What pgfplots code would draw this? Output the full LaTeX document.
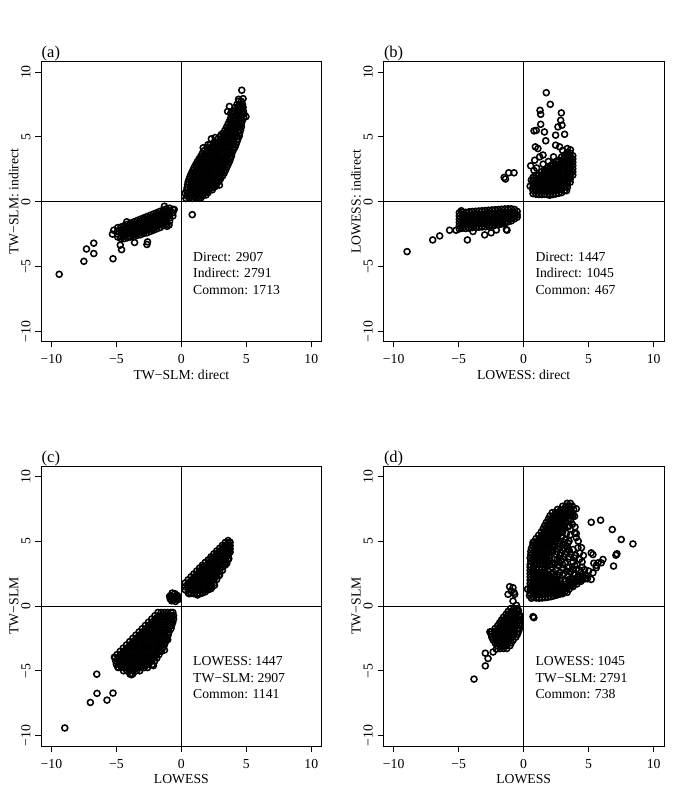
\documentclass[border=0pt]{standalone}
\usepackage{pgfplots}
\pgfplotsset{compat=1.18}
\usepackage{fontspec}
\setmainfont{Liberation Serif}
\newcommand{\rf}{\fontsize{13.7pt}{16.4pt}\selectfont}
\pgfplotsset{
 panel/.style={anchor=south west, scale only axis, width=280.7pt, height=280pt,
  xmin=-10.8,xmax=10.8,ymin=-10.8,ymax=10.8,
  xtick={-10,-5,0,5,10}, ytick={-10,-5,0,5,10},
  xticklabels={−10,−5,0,5,10}, yticklabels={−10,−5,0,5,10},
  tick align=outside, tick pos=left, major tick length=5.7pt,
  axis line style={line width=0.9pt},
  tick style={line width=0.9pt, black},
  tick label style={font=\rf, inner sep=0pt},
  xticklabel style={anchor=base, yshift=-16.6pt},
  yticklabel style={xshift=-5pt, rotate=90, anchor=base},
  clip mode=individual},
 pts/.style={only marks, mark=o, mark size=3.0pt, mark options={line width=1.55pt, black}, black},
 zl/.style={black, line width=0.9pt, forget plot},
}
\begin{document}
\begin{tikzpicture}[x=1pt,y=1pt]
\useasboundingbox (0,0) rectangle (685,809);
% ---------------- (a)
\begin{axis}[panel, at={(41pt,467.3pt)}]
\addplot[pts] coordinates {
(0.35,0.25)(0.6,0.27)(0.85,0.25)(1.1,0.28)(1.35,0.26)(1.52,0.31)
(0.42,0.45)(0.67,0.47)(0.92,0.44)(1.17,0.46)(1.42,0.45)(1.67,0.48)(1.9,0.52)
(0.3,0.65)(0.55,0.66)(0.8,0.64)(1.05,0.67)(1.3,0.65)(1.55,0.66)(1.8,0.68)(2.05,0.7)
(0.4,0.87)(0.65,0.88)(0.9,0.86)(1.15,0.87)(1.4,0.89)(1.65,0.86)(1.9,0.88)(2.15,0.9)(2.38,0.92)
(0.45,1.09)(0.7,1.1)(0.95,1.08)(1.2,1.09)(1.45,1.11)(1.7,1.08)(1.95,1.1)(2.2,1.09)(2.45,1.12)(2.58,1.15)
(0.48,1.31)(0.73,1.3)(0.98,1.32)(1.23,1.31)(1.48,1.3)(1.73,1.33)(1.98,1.31)(2.23,1.3)(2.48,1.32)(2.72,1.35)
(0.52,1.53)(0.77,1.52)(1.02,1.54)(1.27,1.53)(1.52,1.52)(1.77,1.55)(2.02,1.53)(2.27,1.52)(2.52,1.54)(2.77,1.55)(2.9,1.58)
(0.6,1.75)(0.85,1.74)(1.1,1.76)(1.35,1.75)(1.6,1.74)(1.85,1.77)(2.1,1.75)(2.35,1.74)(2.6,1.76)(2.85,1.75)(3.02,1.78)
(0.68,1.97)(0.93,1.96)(1.18,1.98)(1.43,1.97)(1.68,1.96)(1.93,1.99)(2.18,1.97)(2.43,1.96)(2.68,1.98)(2.93,1.97)(3.18,2.0)
(0.78,2.19)(1.03,2.18)(1.28,2.2)(1.53,2.19)(1.78,2.18)(2.03,2.21)(2.28,2.19)(2.53,2.18)(2.78,2.2)(3.03,2.19)(3.3,2.22)
(0.88,2.41)(1.13,2.4)(1.38,2.42)(1.63,2.41)(1.88,2.4)(2.13,2.43)(2.38,2.41)(2.63,2.4)(2.88,2.42)(3.13,2.41)(3.4,2.44)
(0.98,2.63)(1.23,2.62)(1.48,2.64)(1.73,2.63)(1.98,2.62)(2.23,2.65)(2.48,2.63)(2.73,2.62)(2.98,2.64)(3.23,2.63)(3.5,2.66)
(1.1,2.85)(1.35,2.84)(1.6,2.86)(1.85,2.85)(2.1,2.84)(2.35,2.87)(2.6,2.85)(2.85,2.84)(3.1,2.86)(3.35,2.85)(3.6,2.88)
(1.22,3.07)(1.47,3.06)(1.72,3.08)(1.97,3.07)(2.22,3.06)(2.47,3.09)(2.72,3.07)(2.97,3.06)(3.22,3.08)(3.47,3.07)(3.7,3.1)
(1.36,3.29)(1.61,3.28)(1.86,3.3)(2.11,3.29)(2.36,3.28)(2.61,3.31)(2.86,3.29)(3.11,3.28)(3.36,3.3)(3.61,3.29)(3.78,3.32)
(1.5,3.51)(1.75,3.5)(2.0,3.52)(2.25,3.51)(2.5,3.5)(2.75,3.53)(3.0,3.51)(3.25,3.5)(3.5,3.52)(3.75,3.51)(3.86,3.54)
(1.62,3.73)(1.87,3.72)(2.12,3.74)(2.37,3.73)(2.62,3.72)(2.87,3.75)(3.12,3.73)(3.37,3.72)(3.62,3.74)(3.9,3.76)
(1.77,3.95)(2.02,3.94)(2.27,3.96)(2.52,3.95)(2.77,3.94)(3.02,3.97)(3.27,3.95)(3.52,3.94)(3.77,3.96)(4.0,3.98)
(1.97,4.17)(2.22,4.16)(2.47,4.18)(2.72,4.17)(2.97,4.16)(3.22,4.19)(3.47,4.17)(3.72,4.16)(3.97,4.18)(4.12,4.2)
(2.22,4.39)(2.47,4.38)(2.72,4.4)(2.97,4.39)(3.22,4.38)(3.47,4.41)(3.72,4.39)(3.97,4.38)(4.2,4.41)
(2.55,4.61)(2.8,4.6)(3.05,4.62)(3.3,4.61)(3.55,4.6)(3.8,4.63)(4.05,4.61)(4.28,4.63)
(2.82,4.83)(3.07,4.82)(3.32,4.84)(3.57,4.83)(3.82,4.82)(4.07,4.85)(4.35,4.84)
(3.02,5.05)(3.27,5.04)(3.52,5.06)(3.77,5.05)(4.02,5.04)(4.27,5.07)(4.45,5.06)
(3.2,5.27)(3.45,5.26)(3.7,5.28)(3.95,5.27)(4.2,5.26)(4.48,5.29)
(3.35,5.5)(3.6,5.49)(3.85,5.51)(4.1,5.5)(4.35,5.49)(4.55,5.52)
(3.48,5.75)(3.73,5.74)(3.98,5.76)(4.23,5.75)(4.48,5.74)(4.62,5.77)
(3.6,6.0)(3.85,5.99)(4.1,6.01)(4.35,6.0)(4.62,6.02)
(3.72,6.25)(3.97,6.24)(4.22,6.26)(4.47,6.25)(4.7,6.27)
(3.82,6.5)(4.07,6.49)(4.32,6.51)(4.57,6.5)(4.8,6.52)
(3.92,6.75)(4.17,6.74)(4.42,6.76)(4.67,6.75)(4.82,6.78)
(4.02,7.0)(4.27,6.99)(4.52,7.01)(4.77,7.0)
(4.12,7.25)(4.37,7.24)(4.62,7.26)(4.75,7.28)
(4.28,7.5)(4.5,7.49)(4.7,7.52)
(4.42,7.75)(4.62,7.74)
(4.65,8.6)(4.75,7.95)(4.4,7.9)(3.7,7.35)(3.56,6.96)(3.8,6.83)(4.97,6.56)(2.31,4.85)(3.07,5.17)(1.68,4.16)(2.93,1.28)(0.84,-1.0)(1.2,2.75)(1.45,3.3)(1.0,2.3)(2.05,4.4)(2.6,4.95)
(-4.9,-2.0)(-4.9,-2.25)(-4.9,-2.5)(-4.9,-2.72)
(-4.65,-1.95)(-4.65,-2.2)(-4.65,-2.45)(-4.65,-2.7)(-4.65,-2.85)
(-4.4,-1.85)(-4.4,-2.1)(-4.4,-2.35)(-4.4,-2.6)(-4.4,-2.85)
(-4.15,-1.75)(-4.15,-2.0)(-4.15,-2.25)(-4.15,-2.5)(-4.15,-2.78)
(-3.9,-1.65)(-3.9,-1.9)(-3.9,-2.15)(-3.9,-2.4)(-3.9,-2.72)
(-3.65,-1.55)(-3.65,-1.8)(-3.65,-2.05)(-3.65,-2.3)(-3.65,-2.55)(-3.65,-2.7)
(-3.4,-1.45)(-3.4,-1.7)(-3.4,-1.95)(-3.4,-2.2)(-3.4,-2.45)(-3.4,-2.6)
(-3.15,-1.35)(-3.15,-1.6)(-3.15,-1.85)(-3.15,-2.1)(-3.15,-2.35)(-3.15,-2.55)
(-2.9,-1.25)(-2.9,-1.5)(-2.9,-1.75)(-2.9,-2.0)(-2.9,-2.25)(-2.9,-2.45)
(-2.65,-1.15)(-2.65,-1.4)(-2.65,-1.65)(-2.65,-1.9)(-2.65,-2.15)(-2.65,-2.4)
(-2.4,-1.05)(-2.4,-1.3)(-2.4,-1.55)(-2.4,-1.8)(-2.4,-2.05)(-2.4,-2.3)
(-2.15,-0.95)(-2.15,-1.2)(-2.15,-1.45)(-2.15,-1.7)(-2.15,-1.95)(-2.15,-2.2)
(-1.9,-0.85)(-1.9,-1.1)(-1.9,-1.35)(-1.9,-1.6)(-1.9,-1.85)(-1.9,-2.1)
(-1.65,-0.75)(-1.65,-1.0)(-1.65,-1.25)(-1.65,-1.5)(-1.65,-1.75)(-1.65,-2.0)
(-1.4,-0.65)(-1.4,-0.9)(-1.4,-1.15)(-1.4,-1.4)(-1.4,-1.65)(-1.4,-1.85)
(-1.15,-0.55)(-1.15,-0.8)(-1.15,-1.05)(-1.15,-1.3)(-1.15,-1.55)(-1.15,-1.7)
(-0.9,-0.5)(-0.9,-0.75)(-0.9,-1.0)(-0.9,-1.25)(-0.9,-1.5)
(-0.65,-0.6)(-0.65,-0.85)(-0.65,-1.1)
(-5.3,-2.5)(-4.6,-3.7)(-4.7,-3.35)(-3.6,-3.15)(-2.65,-3.3)(-2.6,-3.1)(-1.1,-1.9)(-0.95,-1.8)(-5.2,-2.2)(-1.3,-0.35)(-0.55,-0.6)(-4.2,-1.55)
(-6.74,-3.2)(-7.3,-3.65)(-6.74,-4.0)(-7.5,-4.6)(-5.26,-4.4)(-9.4,-5.6)
};
\addplot[zl] coordinates {(-10.8,0)(10.8,0)};
\addplot[zl] coordinates {(0,-10.8)(0,10.8)};
\node[anchor=base west, font=\rf, inner sep=0pt] at (axis cs:0.9,-4.58) {Direct: 2907};
\node[anchor=base west, font=\rf, inner sep=0pt] at (axis cs:0.9,-5.86) {Indirect: 2791};
\node[anchor=base west, font=\rf, inner sep=0pt] at (axis cs:0.9,-7.14) {Common: 1713};
\node[anchor=base, font=\rf] at ([yshift=-37.6pt]rel axis cs:0.5,0) {TW−SLM: direct};
\node[rotate=90, anchor=base, font=\rf] at ([xshift=-22.7pt]rel axis cs:0,0.5) {TW−SLM: indirect};
\node[anchor=south west, inner sep=0pt, font=\fontsize{16.5pt}{18pt}\selectfont] at ([xshift=0.5pt]rel axis cs:0,1) {(a)};
\end{axis}
% ---------------- (b)
\begin{axis}[panel, at={(383.3pt,467.3pt)}]
\addplot[pts] coordinates {
(-4.95,-0.85)(-4.95,-1.1)(-4.95,-1.35)(-4.95,-1.6)(-4.95,-1.85)(-4.95,-2.1)
(-4.7,-0.8)(-4.7,-1.05)(-4.7,-1.3)(-4.7,-1.55)(-4.7,-1.8)(-4.7,-2.05)
(-4.45,-0.82)(-4.45,-1.07)(-4.45,-1.32)(-4.45,-1.57)(-4.45,-1.82)(-4.45,-2.07)
(-4.2,-0.78)(-4.2,-1.03)(-4.2,-1.28)(-4.2,-1.53)(-4.2,-1.78)(-4.2,-2.03)
(-3.95,-0.75)(-3.95,-1.0)(-3.95,-1.25)(-3.95,-1.5)(-3.95,-1.75)(-3.95,-2.0)
(-3.7,-0.74)(-3.7,-0.99)(-3.7,-1.24)(-3.7,-1.49)(-3.7,-1.74)(-3.7,-1.99)
(-3.45,-0.72)(-3.45,-0.97)(-3.45,-1.22)(-3.45,-1.47)(-3.45,-1.72)(-3.45,-1.97)
(-3.2,-0.7)(-3.2,-0.95)(-3.2,-1.2)(-3.2,-1.45)(-3.2,-1.7)(-3.2,-1.95)
(-2.95,-0.68)(-2.95,-0.93)(-2.95,-1.18)(-2.95,-1.43)(-2.95,-1.68)(-2.95,-1.93)
(-2.7,-0.66)(-2.7,-0.91)(-2.7,-1.16)(-2.7,-1.41)(-2.7,-1.66)(-2.7,-1.9)
(-2.45,-0.64)(-2.45,-0.89)(-2.45,-1.14)(-2.45,-1.39)(-2.45,-1.64)(-2.45,-1.86)
(-2.2,-0.62)(-2.2,-0.87)(-2.2,-1.12)(-2.2,-1.37)(-2.2,-1.62)(-2.2,-1.82)
(-1.95,-0.6)(-1.95,-0.85)(-1.95,-1.1)(-1.95,-1.35)(-1.95,-1.6)(-1.95,-1.78)
(-1.7,-0.58)(-1.7,-0.83)(-1.7,-1.08)(-1.7,-1.33)(-1.7,-1.58)(-1.7,-1.72)
(-1.45,-0.56)(-1.45,-0.81)(-1.45,-1.06)(-1.45,-1.31)(-1.45,-1.56)(-1.45,-1.66)
(-1.2,-0.54)(-1.2,-0.79)(-1.2,-1.04)(-1.2,-1.29)(-1.2,-1.55)
(-0.95,-0.55)(-0.95,-0.8)(-0.95,-1.05)(-0.95,-1.3)(-0.95,-1.48)
(-0.7,-0.6)(-0.7,-0.85)(-0.7,-1.1)(-0.7,-1.32)
(-0.5,-0.75)(-0.5,-1.0)(-0.5,-1.2)
(-4.33,-2.95)(-7.0,-2.95)(-6.46,-2.64)(-8.97,-3.85)(-5.7,-2.2)(-5.2,-2.2)(-1.28,-2.2)(-3.0,-2.56)(-2.5,-2.4)(-3.9,-2.3)(-2.1,-2.18)(-1.33,-2.15)(-4.8,-0.7)
(-1.5,1.87)(-1.4,1.75)(-1.15,2.23)(-0.74,2.23)
(0.72,0.62)(0.72,0.87)(0.72,1.12)(0.72,1.37)(0.72,1.62)(0.72,1.87)
(0.94,0.58)(0.94,0.83)(0.94,1.08)(0.94,1.33)(0.94,1.58)(0.94,1.83)(0.94,2.05)
(1.16,0.56)(1.16,0.81)(1.16,1.06)(1.16,1.31)(1.16,1.56)(1.16,1.81)(1.16,2.06)
(1.38,0.55)(1.38,0.8)(1.38,1.05)(1.38,1.3)(1.38,1.55)(1.38,1.8)(1.38,2.05)(1.38,2.3)
(1.6,0.57)(1.6,0.82)(1.6,1.07)(1.6,1.32)(1.6,1.57)(1.6,1.82)(1.6,2.07)(1.6,2.32)(1.6,2.47)
(1.82,0.55)(1.82,0.8)(1.82,1.05)(1.82,1.3)(1.82,1.55)(1.82,1.8)(1.82,2.05)(1.82,2.3)(1.82,2.58)
(2.04,0.57)(2.04,0.82)(2.04,1.07)(2.04,1.32)(2.04,1.57)(2.04,1.82)(2.04,2.07)(2.04,2.32)(2.04,2.57)(2.04,2.77)
(2.26,0.55)(2.26,0.8)(2.26,1.05)(2.26,1.3)(2.26,1.55)(2.26,1.8)(2.26,2.05)(2.26,2.3)(2.26,2.55)(2.26,2.8)(2.26,2.95)
(2.48,0.6)(2.48,0.85)(2.48,1.1)(2.48,1.35)(2.48,1.6)(2.48,1.85)(2.48,2.1)(2.48,2.35)(2.48,2.6)(2.48,2.85)(2.48,3.1)
(2.7,0.65)(2.7,0.9)(2.7,1.15)(2.7,1.4)(2.7,1.65)(2.7,1.9)(2.7,2.15)(2.7,2.4)(2.7,2.65)(2.7,2.9)(2.7,3.2)
(2.92,0.7)(2.92,0.95)(2.92,1.2)(2.92,1.45)(2.92,1.7)(2.92,1.95)(2.92,2.2)(2.92,2.45)(2.92,2.7)(2.92,2.95)(2.92,3.2)(2.92,3.45)
(3.14,0.85)(3.14,1.1)(3.14,1.35)(3.14,1.6)(3.14,1.85)(3.14,2.1)(3.14,2.35)(3.14,2.6)(3.14,2.85)(3.14,3.1)(3.14,3.35)(3.14,3.6)
(3.36,1.1)(3.36,1.35)(3.36,1.6)(3.36,1.85)(3.36,2.1)(3.36,2.35)(3.36,2.6)(3.36,2.85)(3.36,3.1)(3.36,3.35)(3.36,3.6)(3.36,3.8)
(3.58,1.5)(3.58,1.75)(3.58,2.0)(3.58,2.25)(3.58,2.5)(3.58,2.75)(3.58,3.0)(3.58,3.25)(3.58,3.5)(3.58,3.75)
(3.78,2.05)(3.78,2.3)(3.78,2.55)(3.78,2.8)(3.78,3.05)(3.78,3.3)(3.78,3.55)
(1.74,8.41)(2.05,7.51)(1.26,7.05)(1.31,6.74)(2.9,6.85)(2.85,6.28)(2.95,5.9)(1.31,5.97)(2.64,5.77)(0.8,5.46)(0.97,5.5)(1.6,5.38)(3.15,5.2)(2.46,5.13)(1.7,4.7)(0.9,4.23)(1.1,4.1)(2.46,4.36)(2.77,4.23)(1.49,3.6)(0.54,2.77)(0.85,3.2)(2.3,3.46)(1.23,3.46)(0.59,1.67)(3.36,4.1)(0.5,1.2)(1.0,2.6)(1.9,3.1)(3.0,3.95)(3.6,4.0)(2.0,0.5)(3.3,0.85)(0.8,2.4)(1.5,2.9)
};
\addplot[zl] coordinates {(-10.8,0)(10.8,0)};
\addplot[zl] coordinates {(0,-10.8)(0,10.8)};
\node[anchor=base west, font=\rf, inner sep=0pt] at (axis cs:0.9,-4.58) {Direct: 1447};
\node[anchor=base west, font=\rf, inner sep=0pt] at (axis cs:0.9,-5.86) {Indirect: 1045};
\node[anchor=base west, font=\rf, inner sep=0pt] at (axis cs:0.9,-7.14) {Common: 467};
\node[anchor=base, font=\rf] at ([yshift=-37.6pt]rel axis cs:0.5,0) {LOWESS: direct};
\node[rotate=90, anchor=base, font=\rf] at ([xshift=-22.7pt]rel axis cs:0,0.5) {LOWESS: indirect};
\node[anchor=south west, inner sep=0pt, font=\fontsize{16.5pt}{18pt}\selectfont] at ([xshift=0.5pt]rel axis cs:0,1) {(b)};
\end{axis}
% ---------------- (c)
\begin{axis}[panel, at={(41pt,63pt)}]
\addplot[pts] coordinates {
(0.3,1.25)(0.3,1.5)(0.3,1.78)
(0.52,1.02)(0.52,1.27)(0.52,1.52)(0.52,1.77)(0.52,2.02)
(0.74,0.97)(0.74,1.22)(0.74,1.47)(0.74,1.72)(0.74,1.97)(0.74,2.25)
(0.96,0.95)(0.96,1.2)(0.96,1.45)(0.96,1.7)(0.96,1.95)(0.96,2.2)(0.96,2.47)
(1.18,0.93)(1.18,1.18)(1.18,1.43)(1.18,1.68)(1.18,1.93)(1.18,2.18)(1.18,2.43)(1.18,2.7)
(1.4,0.95)(1.4,1.2)(1.4,1.45)(1.4,1.7)(1.4,1.95)(1.4,2.2)(1.4,2.45)(1.4,2.7)(1.4,2.93)
(1.62,1.0)(1.62,1.25)(1.62,1.5)(1.62,1.75)(1.62,2.0)(1.62,2.25)(1.62,2.5)(1.62,2.75)(1.62,3.0)(1.62,3.15)
(1.84,1.1)(1.84,1.35)(1.84,1.6)(1.84,1.85)(1.84,2.1)(1.84,2.35)(1.84,2.6)(1.84,2.85)(1.84,3.1)(1.84,3.36)
(2.06,1.25)(2.06,1.5)(2.06,1.75)(2.06,2.0)(2.06,2.25)(2.06,2.5)(2.06,2.75)(2.06,3.0)(2.06,3.25)(2.06,3.55)
(2.28,1.4)(2.28,1.65)(2.28,1.9)(2.28,2.15)(2.28,2.4)(2.28,2.65)(2.28,2.9)(2.28,3.15)(2.28,3.4)(2.28,3.65)(2.28,3.8)
(2.5,1.75)(2.5,2.0)(2.5,2.25)(2.5,2.5)(2.5,2.75)(2.5,3.0)(2.5,3.25)(2.5,3.5)(2.5,3.75)(2.5,4.02)
(2.72,2.05)(2.72,2.3)(2.72,2.55)(2.72,2.8)(2.72,3.05)(2.72,3.3)(2.72,3.55)(2.72,3.8)(2.72,4.05)(2.72,4.25)
(2.94,2.4)(2.94,2.65)(2.94,2.9)(2.94,3.15)(2.94,3.4)(2.94,3.65)(2.94,3.9)(2.94,4.15)(2.94,4.45)
(3.16,2.75)(3.16,3.0)(3.16,3.25)(3.16,3.5)(3.16,3.75)(3.16,4.0)(3.16,4.25)(3.16,4.5)(3.16,4.68)
(3.38,3.15)(3.38,3.4)(3.38,3.65)(3.38,3.9)(3.38,4.15)(3.38,4.4)(3.38,4.65)(3.38,4.9)
(3.6,3.6)(3.6,3.85)(3.6,4.1)(3.6,4.35)(3.6,4.6)(3.6,4.85)(3.6,5.05)
(3.75,4.15)(3.75,4.4)(3.75,4.65)(3.75,4.92)
(3.65,3.65)(1.25,0.85)(2.3,1.35)(2.15,1.3)(2.9,2.35)(3.7,4.2)(3.5,3.3)(0.6,0.95)(2.55,1.6)
(-0.85,0.55)(-0.8,0.8)(-0.6,0.45)(-0.55,0.7)(-0.5,0.95)(-0.35,0.6)(-0.3,0.8)(-0.7,1.0)(-0.45,0.35)(-0.65,0.65)(-0.4,0.75)(-0.75,0.4)(-0.25,0.5)(-0.9,0.75)
(-1.8,-0.5)(-1.55,-0.5)(-1.3,-0.5)(-1.05,-0.5)(-0.8,-0.5)(-0.65,-0.5)
(-2.04,-0.75)(-1.79,-0.75)(-1.54,-0.75)(-1.29,-0.75)(-1.04,-0.75)(-0.79,-0.75)(-0.62,-0.75)
(-2.28,-1.0)(-2.03,-1.0)(-1.78,-1.0)(-1.53,-1.0)(-1.28,-1.0)(-1.03,-1.0)(-0.78,-1.0)(-0.6,-1.0)
(-2.53,-1.25)(-2.28,-1.25)(-2.03,-1.25)(-1.78,-1.25)(-1.53,-1.25)(-1.28,-1.25)(-1.03,-1.25)(-0.78,-1.25)(-0.66,-1.25)
(-2.77,-1.5)(-2.52,-1.5)(-2.27,-1.5)(-2.02,-1.5)(-1.77,-1.5)(-1.52,-1.5)(-1.27,-1.5)(-1.02,-1.5)(-0.77,-1.5)
(-3.01,-1.75)(-2.76,-1.75)(-2.51,-1.75)(-2.26,-1.75)(-2.01,-1.75)(-1.76,-1.75)(-1.51,-1.75)(-1.26,-1.75)(-1.01,-1.75)(-0.8,-1.75)
(-3.25,-2.0)(-3.0,-2.0)(-2.75,-2.0)(-2.5,-2.0)(-2.25,-2.0)(-2.0,-2.0)(-1.75,-2.0)(-1.5,-2.0)(-1.25,-2.0)(-0.95,-2.0)
(-3.5,-2.25)(-3.25,-2.25)(-3.0,-2.25)(-2.75,-2.25)(-2.5,-2.25)(-2.25,-2.25)(-2.0,-2.25)(-1.75,-2.25)(-1.5,-2.25)(-1.25,-2.25)(-1.02,-2.25)
(-3.74,-2.5)(-3.49,-2.5)(-3.24,-2.5)(-2.99,-2.5)(-2.74,-2.5)(-2.49,-2.5)(-2.24,-2.5)(-1.99,-2.5)(-1.74,-2.5)(-1.49,-2.5)(-1.24,-2.5)(-1.1,-2.5)
(-3.98,-2.75)(-3.73,-2.75)(-3.48,-2.75)(-3.23,-2.75)(-2.98,-2.75)(-2.73,-2.75)(-2.48,-2.75)(-2.23,-2.75)(-1.98,-2.75)(-1.73,-2.75)(-1.48,-2.75)(-1.22,-2.75)
(-4.22,-3.0)(-3.97,-3.0)(-3.72,-3.0)(-3.47,-3.0)(-3.22,-3.0)(-2.97,-3.0)(-2.72,-3.0)(-2.47,-3.0)(-2.22,-3.0)(-1.97,-3.0)(-1.72,-3.0)(-1.47,-3.0)(-1.3,-3.0)
(-4.47,-3.25)(-4.22,-3.25)(-3.97,-3.25)(-3.72,-3.25)(-3.47,-3.25)(-3.22,-3.25)(-2.97,-3.25)(-2.72,-3.25)(-2.47,-3.25)(-2.22,-3.25)(-1.97,-3.25)(-1.72,-3.25)(-1.45,-3.25)
(-4.71,-3.5)(-4.46,-3.5)(-4.21,-3.5)(-3.96,-3.5)(-3.71,-3.5)(-3.46,-3.5)(-3.21,-3.5)(-2.96,-3.5)(-2.71,-3.5)(-2.46,-3.5)(-2.21,-3.5)(-1.96,-3.5)(-1.71,-3.5)(-1.55,-3.5)
(-4.95,-3.75)(-4.7,-3.75)(-4.45,-3.75)(-4.2,-3.75)(-3.95,-3.75)(-3.7,-3.75)(-3.45,-3.75)(-3.2,-3.75)(-2.95,-3.75)(-2.7,-3.75)(-2.45,-3.75)(-2.2,-3.75)(-1.95,-3.75)(-1.72,-3.75)
(-5.1,-4.0)(-4.85,-4.0)(-4.6,-4.0)(-4.35,-4.0)(-4.1,-4.0)(-3.85,-4.0)(-3.6,-4.0)(-3.35,-4.0)(-3.1,-4.0)(-2.85,-4.0)(-2.6,-4.0)(-2.35,-4.0)(-2.1,-4.0)(-1.88,-4.0)
(-5.05,-4.25)(-4.8,-4.25)(-4.55,-4.25)(-4.3,-4.25)(-4.05,-4.25)(-3.8,-4.25)(-3.55,-4.25)(-3.3,-4.25)(-3.05,-4.25)(-2.8,-4.25)(-2.55,-4.25)(-2.3,-4.25)(-2.05,-4.25)
(-5.0,-4.5)(-4.75,-4.5)(-4.5,-4.5)(-4.25,-4.5)(-4.0,-4.5)(-3.75,-4.5)(-3.5,-4.5)(-3.25,-4.5)(-3.0,-4.5)(-2.75,-4.5)(-2.5,-4.5)(-2.22,-4.5)
(-4.85,-4.75)(-4.6,-4.75)(-4.35,-4.75)(-4.1,-4.75)(-3.85,-4.75)(-3.6,-4.75)(-3.35,-4.75)(-3.1,-4.75)(-2.85,-4.75)(-2.6,-4.75)
(-4.45,-5.0)(-4.2,-5.0)(-3.95,-5.0)(-3.7,-5.0)(-3.45,-5.0)(-3.2,-5.0)
(-3.95,-5.25)(-3.75,-5.25)
(-6.51,-5.26)(-6.49,-6.74)(-7.0,-7.44)(-5.72,-7.26)(-5.26,-6.72)(-8.97,-9.41)(-5.15,-3.95)(-2.15,-4.6)(-1.3,-3.4)(-1.3,-2.9)(-1.05,-2.6)(-0.6,-0.75)(-0.75,-1.5)(-4.9,-4.7)(-3.85,-5.3)
};
\addplot[zl] coordinates {(-10.8,0)(10.8,0)};
\addplot[zl] coordinates {(0,-10.8)(0,10.8)};
\node[anchor=base west, font=\rf, inner sep=0pt] at (axis cs:0.9,-4.6) {LOWESS: 1447};
\node[anchor=base west, font=\rf, inner sep=0pt] at (axis cs:0.9,-5.88) {TW−SLM: 2907};
\node[anchor=base west, font=\rf, inner sep=0pt] at (axis cs:0.9,-7.16) {Common: 1141};
\node[anchor=base, font=\rf] at ([yshift=-37.6pt]rel axis cs:0.5,0) {LOWESS};
\node[rotate=90, anchor=base, font=\rf] at ([xshift=-22.7pt]rel axis cs:0,0.5) {TW−SLM};
\node[anchor=south west, inner sep=0pt, font=\fontsize{16.5pt}{18pt}\selectfont] at ([xshift=0.5pt]rel axis cs:0,1) {(c)};
\end{axis}
% ---------------- (d)
\begin{axis}[panel, at={(383.3pt,63pt)}]
\addplot[pts] coordinates {
(-1.0,-0.2)(-0.75,-0.2)(-0.5,-0.2)
(-1.2,-0.42)(-0.95,-0.42)(-0.7,-0.42)(-0.45,-0.42)
(-1.35,-0.64)(-1.1,-0.64)(-0.85,-0.64)(-0.6,-0.64)(-0.35,-0.64)
(-1.55,-0.86)(-1.3,-0.86)(-1.05,-0.86)(-0.8,-0.86)(-0.55,-0.86)(-0.32,-0.86)
(-1.7,-1.08)(-1.45,-1.08)(-1.2,-1.08)(-0.95,-1.08)(-0.7,-1.08)(-0.45,-1.08)(-0.3,-1.08)
(-1.85,-1.3)(-1.6,-1.3)(-1.35,-1.3)(-1.1,-1.3)(-0.85,-1.3)(-0.6,-1.3)(-0.32,-1.3)
(-2.0,-1.52)(-1.75,-1.52)(-1.5,-1.52)(-1.25,-1.52)(-1.0,-1.52)(-0.75,-1.52)(-0.5,-1.52)(-0.3,-1.52)
(-2.2,-1.74)(-1.95,-1.74)(-1.7,-1.74)(-1.45,-1.74)(-1.2,-1.74)(-0.95,-1.74)(-0.7,-1.74)(-0.45,-1.74)(-0.32,-1.74)
(-2.45,-1.96)(-2.2,-1.96)(-1.95,-1.96)(-1.7,-1.96)(-1.45,-1.96)(-1.2,-1.96)(-0.95,-1.96)(-0.7,-1.96)(-0.4,-1.96)
(-2.5,-2.18)(-2.25,-2.18)(-2.0,-2.18)(-1.75,-2.18)(-1.5,-2.18)(-1.25,-2.18)(-1.0,-2.18)(-0.75,-2.18)(-0.48,-2.18)
(-2.45,-2.4)(-2.2,-2.4)(-1.95,-2.4)(-1.7,-2.4)(-1.45,-2.4)(-1.2,-2.4)(-0.95,-2.4)(-0.6,-2.4)
(-2.35,-2.62)(-2.1,-2.62)(-1.85,-2.62)(-1.6,-2.62)(-1.35,-2.62)(-1.1,-2.62)(-0.8,-2.62)
(-2.2,-2.84)(-1.95,-2.84)(-1.7,-2.84)(-1.45,-2.84)(-1.2,-2.84)(-0.95,-2.84)
(-2.05,-3.06)(-1.8,-3.06)(-1.55,-3.06)(-1.3,-3.06)(-1.05,-3.06)
(-1.8,-3.28)(-1.55,-3.28)(-1.3,-3.28)
(-2.95,-3.64)(-2.74,-4.05)(-2.95,-4.62)(-3.82,-5.64)(-2.1,-3.33)(-2.35,-3.55)(-2.6,-2.0)
(-1.08,1.49)(-0.82,1.41)(-1.2,0.9)(-0.69,0.9)(-0.82,0.38)(-0.95,1.15)(0.72,-0.82)(0.79,-0.9)(-0.55,0.05)(-0.75,1.05)(-0.4,-0.35)(-0.3,-0.75)
(0.5,1.0)(0.5,1.25)(0.5,1.5)(0.5,1.75)(0.5,2.0)(0.5,2.25)(0.5,2.5)(0.5,2.75)(0.5,3.0)
(0.73,0.7)(0.73,0.95)(0.73,1.2)(0.73,1.45)(0.73,1.7)(0.73,1.95)(0.73,2.2)(0.73,2.45)(0.73,2.7)(0.73,2.95)
(0.96,0.62)(0.96,0.87)(0.96,1.12)(0.96,1.37)(0.96,1.62)(0.96,1.87)(0.96,2.12)(0.96,2.37)(0.96,2.62)(0.96,2.87)
(1.19,0.6)(1.19,0.85)(1.19,1.1)(1.19,1.35)(1.19,1.6)(1.19,1.85)(1.19,2.1)(1.19,2.35)(1.19,2.6)(1.19,2.85)
(1.42,0.62)(1.42,0.87)(1.42,1.12)(1.42,1.37)(1.42,1.62)(1.42,1.87)(1.42,2.12)(1.42,2.37)(1.42,2.62)(1.42,2.87)
(1.65,0.65)(1.65,0.9)(1.65,1.15)(1.65,1.4)(1.65,1.65)(1.65,1.9)(1.65,2.15)(1.65,2.4)(1.65,2.65)(1.65,2.9)
(1.88,0.68)(1.88,0.93)(1.88,1.18)(1.88,1.43)(1.88,1.68)(1.88,1.93)(1.88,2.18)(1.88,2.43)(1.88,2.68)
(2.11,0.72)(2.11,0.97)(2.11,1.22)(2.11,1.47)(2.11,1.72)(2.11,1.97)(2.11,2.22)(2.11,2.47)
(2.34,0.78)(2.34,1.03)(2.34,1.28)(2.34,1.53)(2.34,1.78)(2.34,2.03)(2.34,2.28)
(2.57,0.85)(2.57,1.1)(2.57,1.35)(2.57,1.6)(2.57,1.85)(2.57,2.1)
(2.8,0.92)(2.8,1.17)(2.8,1.42)(2.8,1.67)(2.8,1.92)
(0.5,3.2)(0.75,3.2)(1.0,3.2)(1.25,3.2)(1.5,3.2)(1.75,3.2)(2.0,3.2)(2.2,3.2)
(0.55,3.45)(0.8,3.45)(1.05,3.45)(1.3,3.45)(1.55,3.45)(1.8,3.45)(2.05,3.45)
(0.5,3.7)(0.75,3.7)(1.0,3.7)(1.25,3.7)(1.5,3.7)(1.75,3.7)(2.0,3.7)
(0.55,3.95)(0.8,3.95)(1.05,3.95)(1.3,3.95)(1.55,3.95)(1.8,3.95)(2.0,3.95)
(0.55,4.2)(0.8,4.2)(1.05,4.2)(1.3,4.2)(1.55,4.2)(1.8,4.2)(2.05,4.2)
(0.6,4.45)(0.85,4.45)(1.1,4.45)(1.35,4.45)(1.6,4.45)(1.85,4.45)(2.1,4.45)
(0.7,4.7)(0.95,4.7)(1.2,4.7)(1.45,4.7)(1.7,4.7)(1.95,4.7)(2.2,4.7)
(0.8,4.95)(1.05,4.95)(1.3,4.95)(1.55,4.95)(1.8,4.95)(2.05,4.95)(2.3,4.95)(2.45,4.95)
(0.95,5.2)(1.2,5.2)(1.45,5.2)(1.7,5.2)(1.95,5.2)(2.2,5.2)(2.45,5.2)
(1.15,5.45)(1.4,5.45)(1.65,5.45)(1.9,5.45)(2.15,5.45)(2.4,5.45)(2.65,5.45)
(1.35,5.7)(1.6,5.7)(1.85,5.7)(2.1,5.7)(2.35,5.7)(2.6,5.7)(2.85,5.7)
(1.5,5.95)(1.75,5.95)(2.0,5.95)(2.25,5.95)(2.5,5.95)(2.75,5.95)(3.0,5.95)
(1.62,6.2)(1.87,6.2)(2.12,6.2)(2.37,6.2)(2.62,6.2)(2.87,6.2)(3.12,6.2)
(1.75,6.45)(2.0,6.45)(2.25,6.45)(2.5,6.45)(2.75,6.45)(3.0,6.45)(3.3,6.45)
(1.9,6.7)(2.15,6.7)(2.4,6.7)(2.65,6.7)(2.9,6.7)(3.15,6.7)(3.45,6.7)
(2.02,6.95)(2.27,6.95)(2.52,6.95)(2.77,6.95)(3.02,6.95)(3.27,6.95)(3.52,6.95)(3.65,6.95)
(2.2,7.2)(2.45,7.2)(2.7,7.2)(2.95,7.2)(3.2,7.2)(3.45,7.2)(3.7,7.2)
(2.6,7.45)(2.85,7.45)(3.1,7.45)(3.35,7.45)(3.6,7.45)(3.85,7.45)
(3.0,7.7)(3.25,7.7)(3.5,7.7)(3.75,7.7)
(3.35,7.92)(3.6,7.92)
(2.4,3.3)(2.7,3.1)(3.0,2.9)(3.3,2.7)(2.6,3.6)(2.9,3.5)(3.2,3.3)(3.5,3.0)(3.8,2.8)(2.5,4.0)(2.8,3.9)(3.1,3.8)(3.45,3.65)(3.8,3.4)(4.1,3.2)(2.6,4.4)(3.0,4.3)(3.3,4.15)(3.6,4.0)(4.0,3.9)(4.3,3.6)(2.7,4.8)(3.05,4.75)(3.35,4.6)(3.8,4.36)(4.31,4.1)(2.9,5.3)(3.2,5.1)(3.5,5.0)(4.05,5.28)(4.05,5.59)(3.3,5.6)(3.6,5.5)(3.92,5.64)(3.4,6.1)(3.75,6.3)(3.92,6.92)(4.05,7.5)(3.0,2.4)(3.4,2.3)(3.7,2.1)(4.05,2.82)(4.18,4.49)(4.5,3.0)(4.4,2.6)(2.3,2.6)(2.6,2.4)
(2.2,3.0)(2.5,2.8)(2.8,2.6)(3.1,2.5)(2.35,3.6)(2.7,3.4)(3.0,3.2)(3.35,3.0)(3.6,2.6)(2.25,4.2)(2.55,4.2)(2.85,4.1)(3.2,4.0)(3.5,3.8)(3.9,3.7)(2.4,4.6)(2.8,4.5)(3.1,4.45)(3.5,4.3)(2.5,5.0)(2.85,5.0)(3.15,4.9)(3.4,4.85)(2.7,5.6)(3.0,5.7)(3.15,6.1)(3.5,6.2)(3.6,6.6)(3.8,7.0)(3.95,6.1)(4.2,5.0)(4.5,3.4)(4.6,3.9)(3.95,3.1)(4.25,2.8)(3.9,2.5)(4.7,2.8)(4.45,4.5)
(2.6,0.9)(2.9,1.0)(3.2,1.15)(3.5,1.3)(3.8,1.5)(4.1,1.7)(4.4,1.9)(4.7,2.1)(2.8,1.3)(3.1,1.45)(3.4,1.6)(3.7,1.8)(4.0,2.0)(4.3,2.2)(3.0,0.95)(3.35,1.05)(3.67,1.54)(4.18,1.92)(2.9,1.7)(3.2,1.9)(3.5,2.05)
(2.7,1.05)(3.05,1.2)(3.3,1.4)(3.6,1.6)(3.9,1.75)(4.2,2.05)(4.5,2.05)(2.95,1.55)(3.25,1.7)(3.55,1.85)(3.85,2.05)(4.55,2.3)
(5.2,2.05)(4.69,2.38)(4.18,2.31)(5.33,2.56)(5.59,2.95)(5.97,3.33)(6.1,3.59)(5.72,3.33)(5.2,4.1)(5.33,3.97)(5.2,6.46)(5.92,6.62)(6.82,5.9)(7.51,5.13)(8.41,4.79)(7.18,4.03)(7.1,3.92)(6.92,3.08)(5.59,3.13)(4.82,2.36)(5.0,2.7)(5.4,3.3)(4.9,2.1)
(0.45,0.8)(0.6,0.6)(0.72,4.9)(0.3,1.3)
};
\addplot[zl] coordinates {(-10.8,0)(10.8,0)};
\addplot[zl] coordinates {(0,-10.8)(0,10.8)};
\node[anchor=base west, font=\rf, inner sep=0pt] at (axis cs:0.9,-4.6) {LOWESS: 1045};
\node[anchor=base west, font=\rf, inner sep=0pt] at (axis cs:0.9,-5.88) {TW−SLM: 2791};
\node[anchor=base west, font=\rf, inner sep=0pt] at (axis cs:0.9,-7.16) {Common: 738};
\node[anchor=base, font=\rf] at ([yshift=-37.6pt]rel axis cs:0.5,0) {LOWESS};
\node[rotate=90, anchor=base, font=\rf] at ([xshift=-22.7pt]rel axis cs:0,0.5) {TW−SLM};
\node[anchor=south west, inner sep=0pt, font=\fontsize{16.5pt}{18pt}\selectfont] at ([xshift=0.5pt]rel axis cs:0,1) {(d)};
\end{axis}
\end{tikzpicture}
\end{document}
